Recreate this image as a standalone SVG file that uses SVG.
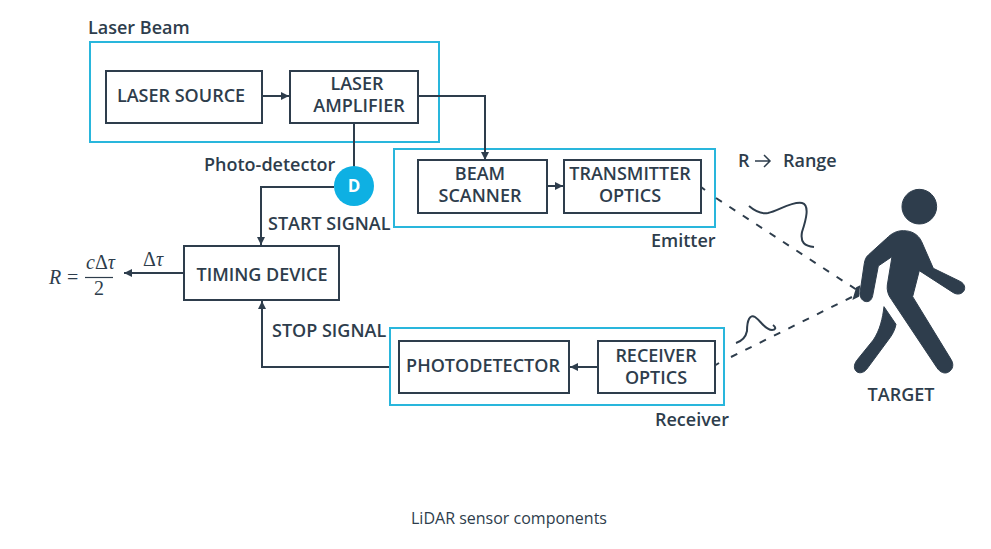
<svg xmlns="http://www.w3.org/2000/svg" width="991" height="549" viewBox="0 0 991 549">
<style>
text{font-family:"Open Sans","Liberation Sans",sans-serif;fill:#2e3d4c;font-size:18px;font-weight:600}
.c{text-anchor:middle}
.box{fill:#fff;stroke:#2e3d4c;stroke-width:2}
.grp{fill:none;stroke:#29b6dc;stroke-width:2}
.ln{fill:none;stroke:#2e3d4c;stroke-width:2}
.dash{fill:none;stroke:#2e3d4c;stroke-width:2;stroke-dasharray:7 9}
.m{font-family:"Liberation Serif",serif;font-weight:400;font-size:20px}
.i{font-style:italic}
</style>
<defs><marker id="a" markerWidth="10" markerHeight="10" refX="8" refY="4" orient="auto" markerUnits="userSpaceOnUse"><path d="M0 0L8 4L0 8Z" fill="#2e3d4c"/></marker></defs>
<rect width="991" height="549" fill="#fff"/>
<g id="group-laser"><rect class="grp" x="90" y="42" width="349" height="100"/><text x="88" y="34">Laser Beam</text></g>
<g id="group-emitter"><rect class="grp" x="394" y="149" width="321" height="78"/><text x="651" y="247">Emitter</text></g>
<g id="group-receiver"><rect class="grp" x="390" y="328" width="334" height="77"/><text x="655" y="426">Receiver</text></g>
<g id="connectors">
<path class="ln" marker-end="url(#a)" d="M262 96H289"/>
<path class="ln" marker-end="url(#a)" d="M418 96H485V160"/>
<path class="ln" d="M354 123V168"/>
<path class="ln" marker-end="url(#a)" d="M334 187H261V245"/>
<path class="ln" marker-end="url(#a)" d="M547 186H563"/>
<path class="ln" marker-end="url(#a)" d="M184 273H124"/>
<path class="ln" marker-end="url(#a)" d="M389 367H262V301"/>
<path class="ln" marker-end="url(#a)" d="M598 367H570"/>
<path class="ln" d="M701 187L705 190"/>
<path class="dash" d="M716 198L860 292"/>
<path class="ln" d="M714 366L719 363"/>
<path class="dash" d="M731 357L860 293"/>
<path d="M854 298L857 288L859 287L858 296Z" fill="#2e3d4c" stroke="#2e3d4c" stroke-width="2"/>
<path class="ln" d="M749 206C756 212 762 214 768 213C778 211 792 201 802 203C810 205 806 220 802 232C800 243 805 246 814 247"/>
<path class="ln" d="M736 343C742 341 746 336 747 331C747 320 750 314 755 317C761 321 765 330 772 330C775 330 777 328 773 325"/>
</g>
<g id="laser-source"><rect class="box" x="106" y="71" width="156" height="52"/><text class="c" x="181" y="102">LASER SOURCE</text></g>
<g id="laser-amplifier"><rect class="box" x="290" y="71" width="128" height="52"/><text class="c" x="357" y="90">LASER</text><text class="c" x="359" y="112">AMPLIFIER</text></g>
<g id="photo-detector"><circle cx="354" cy="186" r="20" fill="#0eb0e3"/><text class="c" x="354" y="192" style="fill:#fff;font-size:17px;font-weight:700">D</text><text x="204" y="171">Photo-detector</text></g>
<g id="beam-scanner"><rect class="box" x="418" y="160" width="129" height="53"/><text class="c" x="480" y="180">BEAM</text><text class="c" x="480" y="202">SCANNER</text></g>
<g id="transmitter-optics"><rect class="box" x="564" y="160" width="137" height="53"/><text class="c" x="630" y="180">TRANSMITTER</text><text class="c" x="630" y="202">OPTICS</text></g>
<g id="timing-device"><rect class="box" x="184" y="246" width="155" height="54"/><text class="c" x="262" y="281">TIMING DEVICE</text></g>
<g id="photodetector"><rect class="box" x="399" y="341" width="170" height="52"/><text class="c" x="483" y="372">PHOTODETECTOR</text></g>
<g id="receiver-optics"><rect class="box" x="598" y="341" width="117" height="52"/><text class="c" x="656" y="362">RECEIVER</text><text class="c" x="656" y="384">OPTICS</text></g>
<g id="labels">
<text x="268" y="230">START SIGNAL</text>
<text x="272" y="337">STOP SIGNAL</text>
<text x="738" y="167">R</text>
<path class="ln" d="M755 161H770M764 155L770 161L764 167" style="stroke-width:1.5"/>
<text x="783" y="167">Range</text>
<text class="c" x="901" y="401">TARGET</text>
<text class="c" x="509" y="524" style="font-size:16px;font-weight:400">LiDAR sensor components</text>
</g>
<g id="formula">
<text class="m i" x="49" y="284">R</text>
<text class="m" x="67" y="284">=</text>
<text class="m" x="86" y="269"><tspan class="i">c</tspan>Δ<tspan class="i">τ</tspan></text>
<path d="M85 277.500H113" stroke="#2e3d4c" stroke-width="1.2"/>
<text class="m c" x="99" y="295">2</text>
<text class="m" x="143" y="266">Δ<tspan class="i">τ</tspan></text>
</g>
<g id="target" transform="translate(690 140) scale(.3333)" fill="#2e3d4c" stroke="#2e3d4c" stroke-width="3" stroke-linejoin="round">
<circle cx="688" cy="200" r="52"/>
<path d="M640 272C620 272 605 280 590 295L535 345C527 352 525 360 523 370L510 458C508 472 518 485 530 485C542 485 547 475 549 462L565 378L606 350L592 435C590 450 594 465 604 478L740 682C750 698 765 703 776 696C790 688 792 672 783 658L668 470L688 392L790 458C803 466 818 462 823 450C827 438 820 428 808 423L730 385L695 305C685 283 665 272 640 272Z"/>
<path d="M582 500L618 553C615 570 607 585 595 600L530 688C520 700 505 702 497 692C490 682 493 670 503 658L550 600C570 570 578 535 582 500Z"/>
</g>
</svg>
